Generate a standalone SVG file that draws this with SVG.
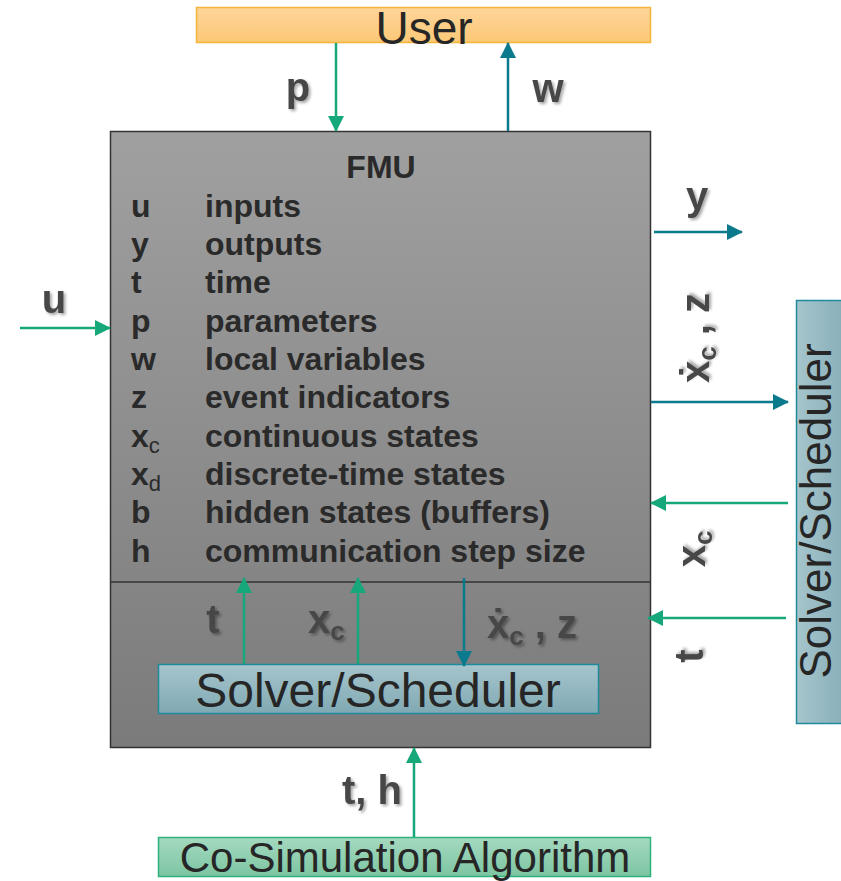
<svg xmlns="http://www.w3.org/2000/svg" width="841" height="881" viewBox="0 0 841 881">
  <defs>
    <linearGradient id="gUser" x1="0" y1="0" x2="0" y2="1">
      <stop offset="0" stop-color="#fed59a"/>
      <stop offset="1" stop-color="#fcc877"/>
    </linearGradient>
    <linearGradient id="gFmu" x1="0" y1="0" x2="0" y2="1">
      <stop offset="0" stop-color="#a0a0a0"/>
      <stop offset="1" stop-color="#7b7b7b"/>
    </linearGradient>
    <linearGradient id="gSolver" x1="0" y1="0" x2="0" y2="1">
      <stop offset="0" stop-color="#a6c5cd"/>
      <stop offset="1" stop-color="#80a9b3"/>
    </linearGradient>
    <linearGradient id="gSolverSide" x1="0" y1="0" x2="1" y2="0">
      <stop offset="0" stop-color="#a6c5cd"/>
      <stop offset="1" stop-color="#80a9b3"/>
    </linearGradient>
    <linearGradient id="gCosim" x1="0" y1="0" x2="0" y2="1">
      <stop offset="0" stop-color="#a5d9c0"/>
      <stop offset="1" stop-color="#7cc5a2"/>
    </linearGradient>
    <marker id="ag" markerUnits="userSpaceOnUse" markerWidth="16" markerHeight="16" viewBox="0 0 16 16" refX="15" refY="8" orient="auto">
      <path d="M0,0 L16,8 L0,16 Z" fill="#16a77a"/>
    </marker>
    <marker id="ab" markerUnits="userSpaceOnUse" markerWidth="16" markerHeight="16" viewBox="0 0 16 16" refX="15" refY="8" orient="auto">
      <path d="M0,0 L16,8 L0,16 Z" fill="#0b7a8c"/>
    </marker>
    <filter id="shadow" x="-30%" y="-30%" width="160%" height="160%">
      <feGaussianBlur in="SourceAlpha" stdDeviation="1.6"/>
      <feOffset dx="1.5" dy="2" result="off"/>
      <feComponentTransfer><feFuncA type="linear" slope="0.35"/></feComponentTransfer>
      <feMerge><feMergeNode/><feMergeNode in="SourceGraphic"/></feMerge>
    </filter>
  </defs>
  <style>
    .bt { font-family: "Liberation Sans", Arial, sans-serif; fill: #262626; }
    .list { font-family: "Liberation Sans", Arial, sans-serif; font-weight: bold; font-size: 32px; fill: #2a2a2a; }
    .sub { font-weight: normal; font-size: 22px; }
    .lbl { font-family: "Liberation Sans", "DejaVu Sans", Arial, sans-serif; font-weight: bold; font-size: 40px; fill: #474747; filter: url(#shadow); }
    .lsub { font-size: 26px; }
    .g { stroke: #16a77a; stroke-width: 2.5; fill: none; marker-end: url(#ag); }
    .b { stroke: #0b7a8c; stroke-width: 2.5; fill: none; marker-end: url(#ab); }
  </style>

  <!-- User -->
  <g id="user">
    <rect x="196.5" y="7.5" width="454" height="35" fill="url(#gUser)" stroke="#f3b53a" stroke-width="1.5"/>
    <text class="bt" x="424" y="44" font-size="46" text-anchor="middle">User</text>
  </g>

  <!-- FMU -->
  <g id="fmu">
    <rect x="110.5" y="131.5" width="540" height="616" fill="url(#gFmu)" stroke="#333333" stroke-width="1.5"/>
    <line x1="110.5" y1="582" x2="650.5" y2="582" stroke="#333333" stroke-width="1.5"/>
    <text class="list" x="381" y="178" font-size="38" text-anchor="middle">FMU</text>
    <g class="list">
      <text x="131" y="217">u</text><text x="205" y="217">inputs</text>
      <text x="131" y="255">y</text><text x="205" y="255">outputs</text>
      <text x="131" y="293">t</text><text x="205" y="293">time</text>
      <text x="131" y="332">p</text><text x="205" y="332">parameters</text>
      <text x="131" y="370">w</text><text x="205" y="370">local variables</text>
      <text x="131" y="408">z</text><text x="205" y="408">event indicators</text>
      <text x="131" y="447">x<tspan class="sub" dy="6">c</tspan></text><text x="205" y="447">continuous states</text>
      <text x="131" y="485">x<tspan class="sub" dy="6">d</tspan></text><text x="205" y="485">discrete-time states</text>
      <text x="131" y="523">b</text><text x="205" y="523">hidden states (buffers)</text>
      <text x="131" y="562">h</text><text x="205" y="562">communication step size</text>
    </g>
  </g>

  <!-- Internal solver -->
  <g id="solver-inner">
    <rect x="158.5" y="664.5" width="440" height="49" fill="url(#gSolver)" stroke="#1e8b9c" stroke-width="1.5"/>
    <text class="bt" x="378" y="707" font-size="48" text-anchor="middle">Solver/Scheduler</text>
  </g>

  <!-- External solver -->
  <g id="solver-outer">
    <rect x="796.5" y="300.5" width="60" height="423" fill="url(#gSolverSide)" stroke="#1e8b9c" stroke-width="1.5"/>
    <text class="bt" transform="translate(831,511) rotate(-90)" font-size="44" text-anchor="middle">Solver/Scheduler</text>
  </g>

  <!-- Co-simulation master -->
  <g id="cosim">
    <rect x="158.5" y="837.5" width="492" height="39" fill="url(#gCosim)" stroke="#2db27e" stroke-width="1.5"/>
    <text class="bt" x="405" y="872" font-size="42" text-anchor="middle">Co-Simulation Algorithm</text>
  </g>

  <!-- Connectors -->
  <g id="connectors">
    <line class="g" x1="336" y1="43" x2="336" y2="131"/>
    <line class="b" x1="508" y1="131" x2="508" y2="43"/>
    <line class="g" x1="20" y1="328" x2="110" y2="328"/>
    <line class="b" x1="654" y1="232" x2="742" y2="232"/>
    <line class="b" x1="651" y1="402" x2="788" y2="402"/>
    <line class="g" x1="788" y1="503" x2="651" y2="503"/>
    <line class="g" x1="786" y1="618" x2="648" y2="618"/>
    <line class="g" x1="244" y1="664" x2="244" y2="578"/>
    <line class="g" x1="358" y1="664" x2="358" y2="578"/>
    <line class="b" x1="464" y1="578" x2="464" y2="666"/>
    <line class="g" x1="414" y1="837" x2="414" y2="748"/>
  </g>

  <!-- Signal labels -->
  <g id="labels">
    <text class="lbl" x="298" y="101" text-anchor="middle">p</text>
    <text class="lbl" x="548" y="102" text-anchor="middle">w</text>
    <text class="lbl" x="54" y="313" text-anchor="middle">u</text>
    <text class="lbl" x="697" y="210" text-anchor="middle">y</text>
    <text class="lbl" transform="translate(709,338) rotate(-90)" text-anchor="middle">ẋ<tspan class="lsub" dy="7">c</tspan><tspan dy="-7"> , z</tspan></text>
    <text class="lbl" transform="translate(705,549) rotate(-90)" text-anchor="middle">x<tspan class="lsub" dy="7">c</tspan></text>
    <text class="lbl" transform="translate(703,656) rotate(-90)" text-anchor="middle">t</text>
    <text class="lbl" x="213" y="633" text-anchor="middle">t</text>
    <text class="lbl" x="308" y="633">x<tspan class="lsub" dy="7">c</tspan></text>
    <text class="lbl" x="487" y="638">ẋ<tspan class="lsub" dy="7">c</tspan><tspan dy="-7"> , z</tspan></text>
    <text class="lbl" x="372" y="804" text-anchor="middle">t, h</text>
  </g>
</svg>
